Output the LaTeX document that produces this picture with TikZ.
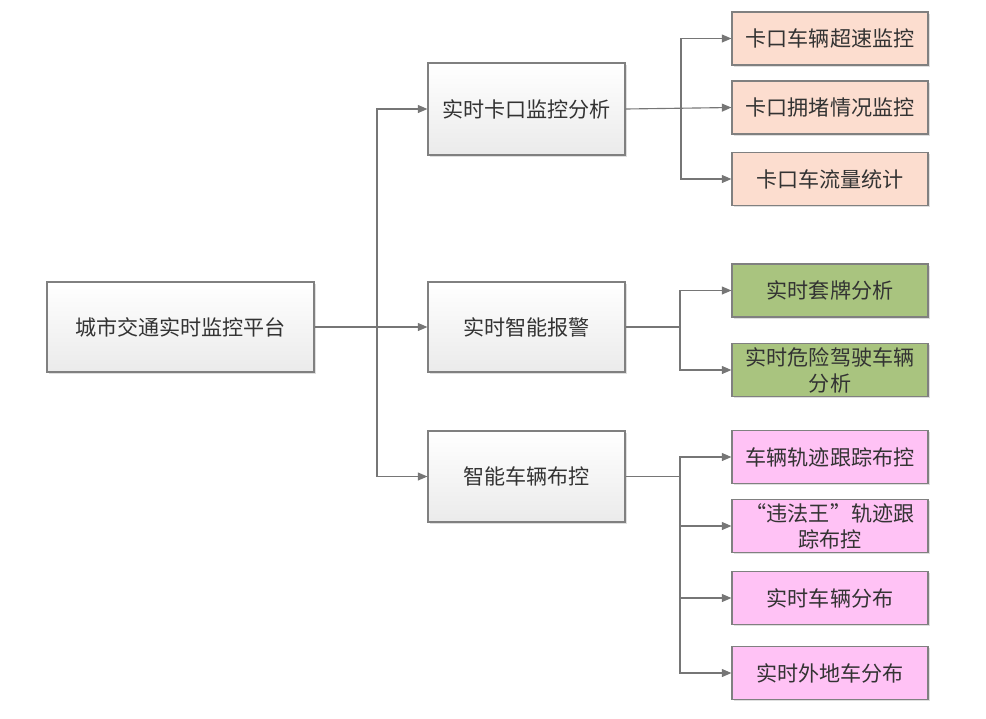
\documentclass[tikz,border=0pt]{standalone}
\usepackage{fontspec}
\usepackage{xcolor}
\usepackage{tikz}
\usetikzlibrary{arrows.meta,shadows}
\newfontfamily\cjk{Noto Sans CJK SC}
\definecolor{kakou}{RGB}{252,221,207}
\definecolor{baojing}{RGB}{169,196,127}
\definecolor{bukong}{RGB}{255,194,245}
\definecolor{rim}{RGB}{128,128,128}
\definecolor{wire}{RGB}{118,118,118}

\begin{document}
\begin{tikzpicture}[x=0.025cm,y=-0.025cm]
  \tikzset{> = {Triangle[length=0.24cm,width=0.2cm]}}
  \tikzset{box/.style={draw=rim, line width=0.8pt, font=\cjk\fontsize{15}{18.5}\selectfont,
           text=black!80, align=center, inner sep=0pt,
           drop shadow={opacity=0.25, shadow xshift=1.2pt, shadow yshift=-1.2pt}},
           grey/.style={box, top color=white, bottom color=black!8},
           leaf/.style={box, minimum width=4.9cm, minimum height=1.325cm}}
  \tikzset{link/.style={draw=wire, line width=0.8pt}}
  \useasboundingbox (0,0) rectangle (986,718);
  % root and second level
  \node[grey, minimum width=6.675cm, minimum height=2.25cm] (root) at (180.5,327) {城市交通实时监控平台};
  \node[grey, minimum width=4.925cm, minimum height=2.3cm] (kk) at (526.5,109) {实时卡口监控分析};
  \node[grey, minimum width=4.925cm, minimum height=2.25cm] (bj) at (526.5,327) {实时智能报警};
  \node[grey, minimum width=4.925cm, minimum height=2.275cm] (bk) at (526.5,476.5) {智能车辆布控};
  % leaves
  \node[leaf, fill=kakou] (kk1) at (830,38.5) {卡口车辆超速监控};
  \node[leaf, fill=kakou] (kk2) at (830,107.5) {卡口拥堵情况监控};
  \node[leaf, fill=kakou] (kk3) at (830,179) {卡口车流量统计};
  \node[leaf, fill=baojing] (bj1) at (830,290.5) {实时套牌分析};
  \node[leaf, fill=baojing] (bj2) at (830,370) {实时危险驾驶车辆\\分析};
  \node[leaf, fill=bukong] (bk1) at (830,457) {车辆轨迹跟踪布控};
  \node[leaf, fill=bukong] (bk2) at (830,526) {“违法王”轨迹跟\\踪布控};
  \node[leaf, fill=bukong] (bk3) at (830,598) {实时车辆分布};
  \node[leaf, fill=bukong] (bk4) at (830,673) {实时外地车分布};
  % junctions
  \coordinate (j0) at (377,327);
  \coordinate (j1) at (681,109);
  \coordinate (j2) at (680,327);
  \coordinate (j3) at (680,476.5);
  % connectors
  \draw[link] (root.east) -- (j0);
  \draw[link,->] (j0) |- (kk.west);
  \draw[link,->] (j0) -- (bj.west);
  \draw[link,->] (j0) |- (bk.west);
  \draw[link,->] (kk.east) -- (kk2.west);
  \draw[link,->] (j1) |- (kk1.west);
  \draw[link,->] (j1) |- (kk3.west);
  \draw[link] (bj.east) -- (j2);
  \draw[link,->] (j2) |- (bj1.west);
  \draw[link,->] (j2) |- (bj2.west);
  \draw[link] (bk.east) -- (j3);
  \foreach \n in {bk1,bk2,bk3,bk4}
    \draw[link,->] (j3) |- (\n.west);
\end{tikzpicture}
\end{document}
